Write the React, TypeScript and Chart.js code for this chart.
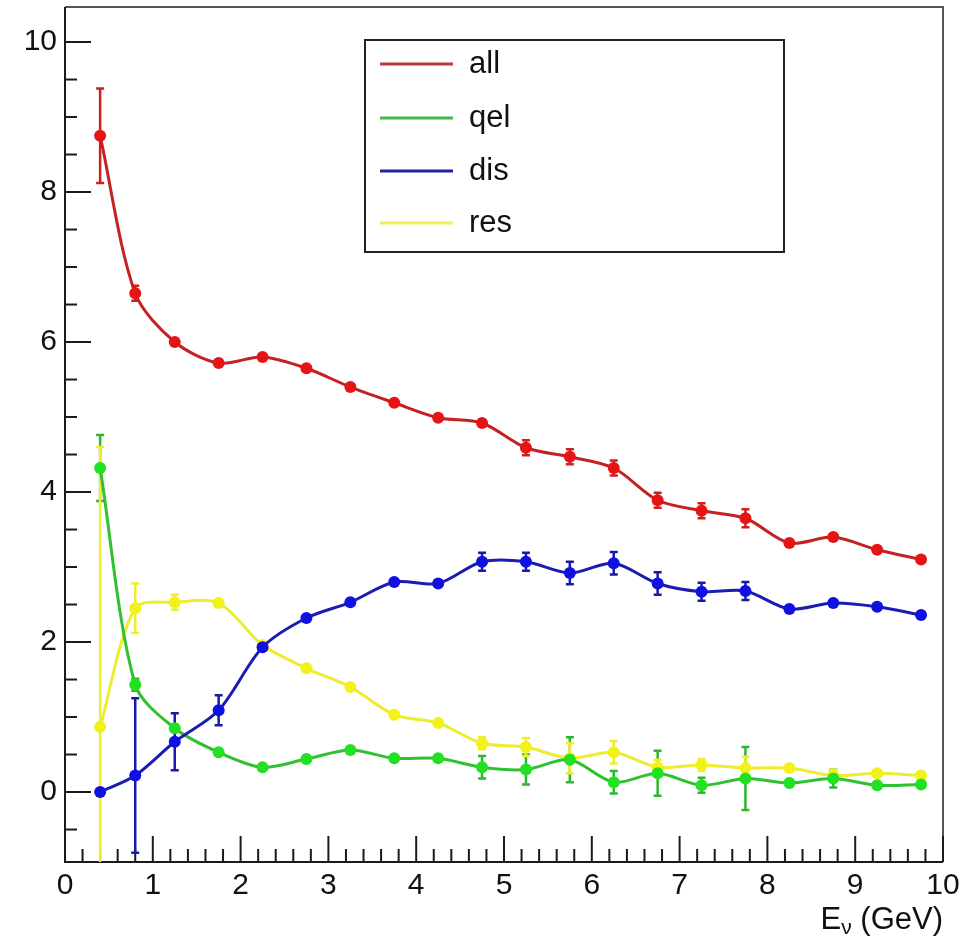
import React, { useEffect, useRef } from "react";
import { Chart, registerables } from "chart.js";

Chart.register(...registerables);

// ---- data ----
const energies = [0.4, 0.8, 1.25, 1.75, 2.25, 2.75, 3.25, 3.75, 4.25, 4.75, 5.25, 5.75, 6.25, 6.75, 7.25, 7.75, 8.25, 8.75, 9.25, 9.75];

const allValues = [8.75, 6.65, 6.0, 5.72, 5.8, 5.65, 5.4, 5.19, 4.99, 4.92, 4.59, 4.47, 4.32, 3.89, 3.75, 3.65, 3.32, 3.4, 3.23, 3.1];
const allErrors = [0.63, 0.1, 0.05, 0.05, 0.05, 0.05, 0.05, 0.05, 0.05, 0.06, 0.1, 0.1, 0.1, 0.1, 0.1, 0.12, 0.05, 0.05, 0.05, 0.05];

const qelValues = [4.32, 1.43, 0.85, 0.53, 0.33, 0.44, 0.56, 0.45, 0.45, 0.33, 0.3, 0.43, 0.13, 0.25, 0.09, 0.18, 0.12, 0.18, 0.09, 0.1];
const qelErrors = [0.44, 0.08, 0.05, 0.05, 0.04, 0.04, 0.04, 0.04, 0.04, 0.15, 0.2, 0.3, 0.15, 0.3, 0.1, 0.42, 0.05, 0.12, 0.05, 0.05];

const disValues = [0.0, 0.22, 0.67, 1.09, 1.93, 2.32, 2.53, 2.8, 2.78, 3.07, 3.07, 2.92, 3.05, 2.78, 2.67, 2.68, 2.44, 2.52, 2.47, 2.36];
const disErrors = [0.03, 1.03, 0.38, 0.2, 0.05, 0.05, 0.05, 0.05, 0.05, 0.12, 0.12, 0.15, 0.15, 0.15, 0.12, 0.12, 0.05, 0.05, 0.05, 0.05];

const resValues = [0.87, 2.45, 2.53, 2.52, 1.96, 1.65, 1.4, 1.03, 0.92, 0.65, 0.6, 0.45, 0.53, 0.33, 0.36, 0.32, 0.32, 0.22, 0.25, 0.22];
const resErrors = [3.73, 0.33, 0.1, 0.05, 0.05, 0.04, 0.04, 0.04, 0.04, 0.08, 0.12, 0.2, 0.15, 0.1, 0.08, 0.15, 0.05, 0.08, 0.05, 0.05];

const seriesLabels = ["all", "qel", "dis", "res"];
const xTickValues = [0, 1, 2, 3, 4, 5, 6, 7, 8, 9, 10];
const yTickValues = [0, 2, 4, 6, 8, 10];
const xAxisTitleMain = "E";
const xAxisTitleSub = "ν";
const xAxisTitleRest = " (GeV)";

const FONT = "'Liberation Sans', Arial, Helvetica, sans-serif";

const framePlugin = {
  id: "rootFrame",
  beforeDatasetsDraw(chart: any) {
    const { ctx, chartArea } = chart;
    const xs = chart.scales.x;
    const ys = chart.scales.y;
    const { left, right, top, bottom } = chartArea;
    ctx.save();
    // frame
    ctx.lineWidth = 2;
    ctx.strokeStyle = "#555";
    ctx.beginPath();
    ctx.moveTo(left, top);
    ctx.lineTo(right, top);
    ctx.lineTo(right, bottom);
    ctx.stroke();
    ctx.strokeStyle = "#1a1a1a";
    ctx.beginPath();
    ctx.moveTo(left, top);
    ctx.lineTo(left, bottom);
    ctx.lineTo(right, bottom);
    ctx.stroke();

    // y ticks (inside)
    ctx.lineWidth = 2;
    for (let v = -0.5; v <= ys.max + 1e-6; v += 0.5) {
      const py = ys.getPixelForValue(v);
      if (py < top || py > bottom) continue;
      const major = Math.abs(v / 2 - Math.round(v / 2)) < 1e-6;
      ctx.beginPath();
      ctx.moveTo(left, py);
      ctx.lineTo(left + (major ? 26 : 12), py);
      ctx.stroke();
    }
    // x ticks (inside)
    for (let k = 0; k <= 50; k++) {
      const v = k * 0.2;
      const px = xs.getPixelForValue(v);
      const major = k % 5 === 0;
      ctx.beginPath();
      ctx.moveTo(px, bottom);
      ctx.lineTo(px, bottom - (major ? 26 : 13));
      ctx.stroke();
    }
    ctx.restore();

    // error bars (under the markers)
    ctx.save();
    ctx.beginPath();
    ctx.rect(left, top, right - left, bottom - top);
    ctx.clip();
    chart.data.datasets.forEach((ds: any) => {
      const errs: number[] = ds.errors || [];
      ctx.strokeStyle = ds.errorColor;
      ctx.lineWidth = 2.5;
      ds.data.forEach((p: any, i: number) => {
        const e = errs[i] || 0;
        const px = xs.getPixelForValue(p.x);
        const t = ys.getPixelForValue(p.y + e);
        const b = ys.getPixelForValue(p.y - e);
        ctx.beginPath();
        ctx.moveTo(px, t);
        ctx.lineTo(px, b);
        if (e > 0.07) {
          ctx.moveTo(px - 4, t);
          ctx.lineTo(px + 4, t);
          ctx.moveTo(px - 4, b);
          ctx.lineTo(px + 4, b);
        }
        ctx.stroke();
      });
    });
    ctx.restore();
  },
  afterDraw(chart: any) {
    const { ctx, chartArea } = chart;
    const { right } = chartArea;
    ctx.save();
    // x axis title (right aligned)
    ctx.fillStyle = "#111";
    ctx.textBaseline = "alphabetic";
    const mainFont = `31px ${FONT}`;
    const subFont = `21px ${FONT}`;
    ctx.font = mainFont;
    const wMain = ctx.measureText(xAxisTitleMain).width;
    const wRest = ctx.measureText(xAxisTitleRest).width;
    ctx.font = subFont;
    const wSub = ctx.measureText(xAxisTitleSub).width;
    const baseY = 929;
    let sx = right - (wMain + wSub + wRest);
    ctx.font = mainFont;
    ctx.fillText(xAxisTitleMain, sx, baseY);
    sx += wMain;
    ctx.font = subFont;
    ctx.fillText(xAxisTitleSub, sx, baseY + 5);
    sx += wSub;
    ctx.font = mainFont;
    ctx.fillText(xAxisTitleRest, sx, baseY);

    // legend
    const lx = 365, ly = 40, lw = 419, lh = 212;
    ctx.fillStyle = "#fff";
    ctx.fillRect(lx, ly, lw, lh);
    ctx.strokeStyle = "#222";
    ctx.lineWidth = 2;
    ctx.strokeRect(lx, ly, lw, lh);
    const rows = [64, 118, 171, 223];
    chart.data.datasets.forEach((ds: any, i: number) => {
      const ry = rows[i];
      ctx.strokeStyle = ds.legendColor;
      ctx.lineWidth = 3;
      ctx.beginPath();
      ctx.moveTo(380, ry);
      ctx.lineTo(453, ry);
      ctx.stroke();
      ctx.fillStyle = "#111";
      ctx.font = `31px ${FONT}`;
      ctx.textBaseline = "middle";
      ctx.fillText(ds.label, 469, ry);
    });
    ctx.restore();
  },
};

function makeDataset(label: string, values: number[], errors: number[], line: string, point: string, errorColor: string, legendColor: string, order: number) {
  return {
    label,
    data: energies.map((x, i) => ({ x, y: values[i] })),
    errors,
    errorColor,
    legendColor,
    borderColor: line,
    backgroundColor: point,
    pointBackgroundColor: point,
    pointBorderColor: point,
    pointRadius: 6,
    pointBorderWidth: 0,
    borderWidth: 3,
    tension: 0.3,
    showLine: true,
    fill: false,
    order,
  };
}

export default function App() {
  const ref = useRef<HTMLCanvasElement>(null);
  useEffect(() => {
    const canvas = ref.current;
    if (!canvas) return;
    const chart = new Chart(canvas, {
      type: "scatter",
      data: {
        datasets: [
          makeDataset(seriesLabels[0], allValues, allErrors, "#c42222", "#e51515", "#cc2020", "#b83a3a", 1),
          makeDataset(seriesLabels[1], qelValues, qelErrors, "#30c030", "#22e022", "#2fb52f", "#45b845", 3),
          makeDataset(seriesLabels[2], disValues, disErrors, "#1c1cb0", "#1010e0", "#1a1aa8", "#22229a", 2),
          makeDataset(seriesLabels[3], resValues, resErrors, "#ecec30", "#f2f21a", "#eeee30", "#eded60", 4),
        ] as any,
      },
      options: {
        responsive: false,
        animation: false,
        devicePixelRatio: 1,
        layout: { padding: { left: 0, top: 7, right: 36, bottom: 0 } },
        plugins: { legend: { display: false }, tooltip: { enabled: false } },
        scales: {
          x: {
            type: "linear",
            min: 0,
            max: 10,
            afterFit: (s: any) => { s.height = 79; s.paddingLeft = 0; s.paddingRight = 0; },
            afterBuildTicks: (s: any) => { s.ticks = xTickValues.map((v) => ({ value: v })); },
            grid: { display: false, drawTicks: false },
            border: { display: false },
            ticks: { font: { size: 30, family: FONT }, color: "#111", padding: 6, maxRotation: 0, autoSkip: false },
          },
          y: {
            type: "linear",
            min: -0.933,
            max: 10.467,
            afterFit: (s: any) => { s.width = 65; s.paddingTop = 0; s.paddingBottom = 0; },
            afterBuildTicks: (s: any) => { s.ticks = yTickValues.map((v) => ({ value: v })); },
            grid: { display: false, drawTicks: false },
            border: { display: false },
            ticks: { font: { size: 30, family: FONT }, color: "#111", padding: 8, autoSkip: false },
          },
        },
      },
      plugins: [framePlugin],
    });
    return () => chart.destroy();
  }, []);
  return (
    <div style={{ position: "absolute", left: 0, top: 0, width: 979, height: 941, background: "#fff" }}>
      <canvas ref={ref} width={979} height={941} style={{ display: "block" }} />
    </div>
  );
}
